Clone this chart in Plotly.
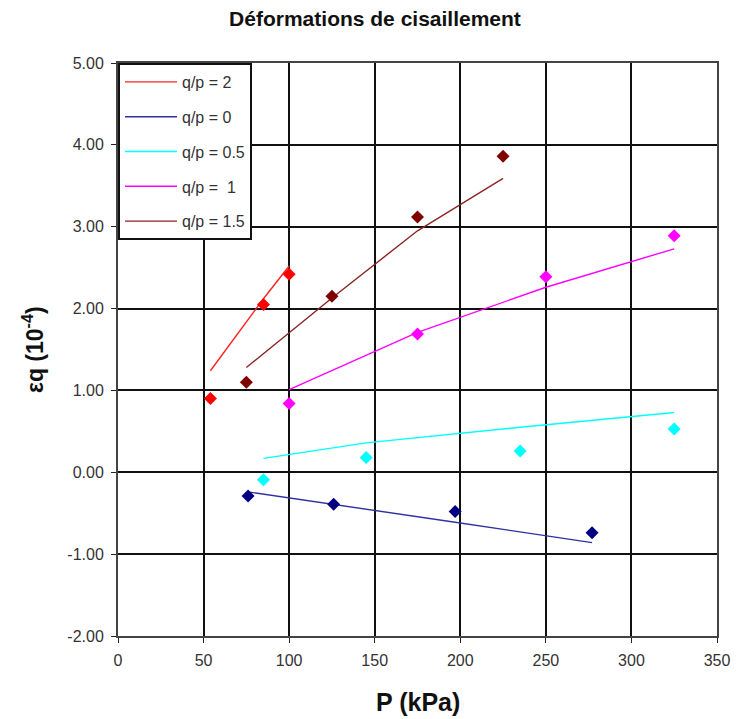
import plotly.graph_objects as go

# ---- data ----
P_q2 = [54, 85, 100]
eps_q2 = [0.90, 2.05, 2.42]
fit_q2 = [1.24, 2.12, 2.52]

P_q0 = [76, 126, 197, 277]
eps_q0 = [-0.29, -0.39, -0.48, -0.74]
fit_q0 = [-0.24, -0.39, -0.61, -0.86]

P_q05 = [85, 145, 235, 325]
eps_q05 = [-0.09, 0.18, 0.26, 0.53]
fit_q05 = [0.17, 0.36, 0.55, 0.73]

P_q1 = [100, 175, 250, 325]
eps_q1 = [0.84, 1.69, 2.39, 2.89]
fit_q1 = [1.01, 1.71, 2.26, 2.73]

P_q15 = [75, 125, 175, 225]
eps_q15 = [1.10, 2.15, 3.12, 3.86]
fit_q15 = [1.28, 2.13, 2.95, 3.59]

series_names = ["q/p = 2", "q/p = 0", "q/p = 0.5", "q/p =  1", "q/p = 1.5"]
marker_colors = ["#FF0000", "#000080", "#00FFFF", "#FF00FF", "#800000"]
line_colors = ["#FF2020", "#3030A0", "#00FFFF", "#FF00FF", "#8B2525"]

x_ticks = [0, 50, 100, 150, 200, 250, 300, 350]
y_ticks = [-2, -1, 0, 1, 2, 3, 4, 5]
y_tick_labels = ["-2.00", "-1.00", "0.00", "1.00", "2.00", "3.00", "4.00", "5.00"]

FONT = "Arial, Liberation Sans, sans-serif"

W, H = 737, 719
ML, MT, PW, PH = 118, 63, 599, 573

fig = go.Figure()
all_P = [P_q2, P_q0, P_q05, P_q1, P_q15]
all_eps = [eps_q2, eps_q0, eps_q05, eps_q1, eps_q15]
all_fit = [fit_q2, fit_q0, fit_q05, fit_q1, fit_q15]

for i, (P, e, f) in enumerate(zip(all_P, all_eps, all_fit)):
    fig.add_trace(go.Scatter(
        x=P, y=f, mode="lines", name=series_names[i],
        line=dict(color=line_colors[i], width=1.4),
        legendgroup="g%d" % i, showlegend=True,
    ))
    fig.add_trace(go.Scatter(
        x=P, y=e, mode="markers", name=series_names[i],
        marker=dict(symbol="diamond", size=10, color=marker_colors[i]),
        legendgroup="g%d" % i, showlegend=False,
    ))

fig.update_layout(
    width=W, height=H,
    paper_bgcolor="white", plot_bgcolor="white",
    margin=dict(l=ML, r=W - ML - PW, t=MT, b=H - MT - PH),
    font=dict(family=FONT, size=16, color="#333"),
    title=dict(text="<b>Déformations de cisaillement</b>", x=375 / W, xref="container",
               xanchor="center", y=1 - 19 / H, yref="container", yanchor="middle",
               font=dict(size=21, color="#111", family=FONT)),
    showlegend=True,
    legend=dict(x=0.0, y=1.0, xanchor="left", yanchor="top",
                bgcolor="white", bordercolor="#111", borderwidth=2,
                font=dict(size=16, color="#333", family=FONT),
                tracegroupgap=11, itemwidth=52,
                traceorder="grouped"),
)

fig.update_xaxes(
    range=[0, 350], tickvals=x_ticks, ticktext=[str(v) for v in x_ticks],
    showgrid=True, gridcolor="#111", gridwidth=1.5,
    showline=True, linecolor="#444", linewidth=2, mirror=True,
    ticks="outside", ticklen=5, tickcolor="#222", zeroline=False,
    tickfont=dict(size=16, color="#333"), automargin=False, ticklabelstandoff=4,
)
fig.update_yaxes(
    range=[-2, 5], tickvals=y_ticks, ticktext=y_tick_labels,
    showgrid=True, gridcolor="#111", gridwidth=1.5,
    showline=True, linecolor="#444", linewidth=2, mirror=True,
    ticks="outside", ticklen=5, tickcolor="#222", zeroline=False,
    tickfont=dict(size=16, color="#333"), automargin=False, ticklabelstandoff=4,
)

fig.add_annotation(text="<b>P (kPa)</b>", xref="paper", yref="paper",
                   x=0.5, y=(PH + MT - 702) / PH,
                   xanchor="center", yanchor="middle", showarrow=False,
                   font=dict(size=25, color="#111", family=FONT))
fig.add_annotation(text="<b>εq (10<sup>-4</sup>)</b>", xref="paper", yref="paper",
                   x=(33 - ML) / PW, y=(PH + MT - 350) / PH, textangle=-90,
                   xanchor="center", yanchor="middle", showarrow=False,
                   font=dict(size=23, color="#111", family=FONT))

fig.write_html("out.html", config={"displayModeBar": False},
               post_script="document.body.style.margin='0';")
